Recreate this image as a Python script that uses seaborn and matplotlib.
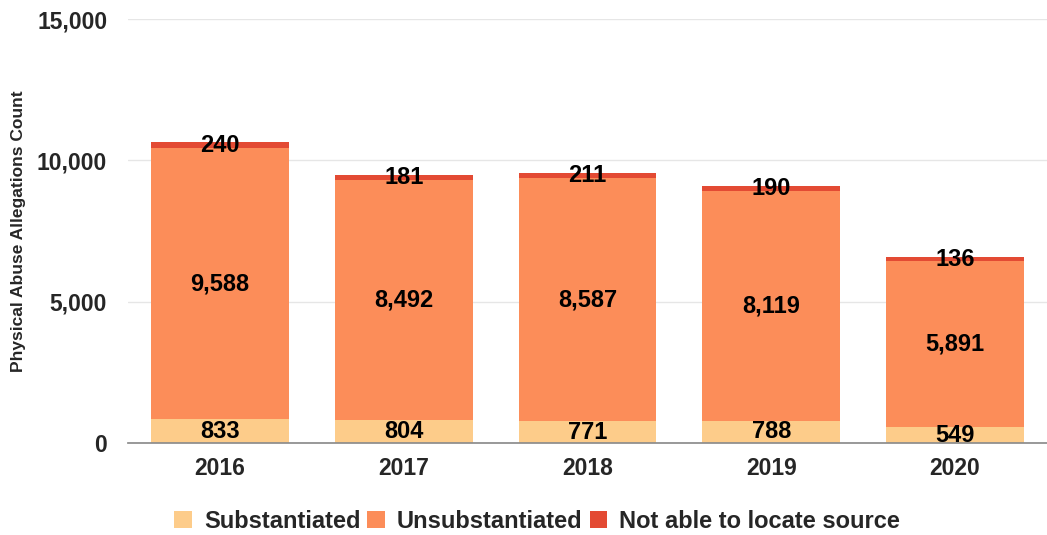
import numpy as np
import pandas as pd
import matplotlib
matplotlib.use("Agg")
import matplotlib.pyplot as plt
import seaborn as sns
from matplotlib.patches import Patch
from matplotlib.ticker import FuncFormatter

years = ["2016", "2017", "2018", "2019", "2020"]
substantiated = [833, 804, 771, 788, 549]
unsubstantiated = [9588, 8492, 8587, 8119, 5891]
not_located = [240, 181, 211, 190, 136]
series_names = ["Substantiated", "Unsubstantiated", "Not able to locate source"]
colors = ["#fdcc8a", "#fc8d59", "#e34a33"]

sns.set_theme(style="white")
plt.rcParams["font.family"] = ["Liberation Sans", "DejaVu Sans"]

df = pd.DataFrame({
    "year": years,
    "sub": substantiated,
    "unsub": unsubstantiated,
    "nl": not_located,
})
df["c1"] = df["sub"]
df["c2"] = df["sub"] + df["unsub"]
df["c3"] = df["c2"] + df["nl"]

fig = plt.figure(figsize=(10.47, 5.35), dpi=100)
ax = fig.add_axes([128 / 1047, 1 - 443 / 535, 1 - 128 / 1047, (443 - 19) / 535])

for col, c in zip(["c3", "c2", "c1"], colors[::-1]):
    sns.barplot(data=df, x="year", y=col, order=years, color=c, width=0.75,
                saturation=1, ax=ax, linewidth=0, zorder=3)

ax.set_ylim(0, 15000)
ax.set_xlim(-0.5, 4.5)
ax.set_yticks([0, 5000, 10000, 15000])
ax.yaxis.set_major_formatter(FuncFormatter(lambda v, p: f"{int(v):,}"))
ax.grid(axis="y", color="#e6e6e6", linewidth=1, zorder=0)
ax.grid(axis="x", visible=False)
for s in ["top", "right", "left"]:
    ax.spines[s].set_visible(False)
ax.spines["bottom"].set_color("#8c8c8c")
ax.spines["bottom"].set_zorder(4)
ax.tick_params(axis="y", length=7, color="#8c8c8c", width=1.2, labelsize=16.5, pad=8)
ax.tick_params(axis="x", which="major", length=0, labelsize=16.5, pad=10)
ax.set_xticks(np.arange(-0.5, 5, 1), minor=True)
ax.tick_params(axis="x", which="minor", length=7, color="#8c8c8c", width=1.2, direction="out")
for lab in ax.get_xticklabels() + ax.get_yticklabels():
    lab.set_fontweight("bold")
ax.set_xlabel("")
ax.set_ylabel("Physical Abuse Allegations Count", fontsize=12.5, fontweight="bold")
ax.yaxis.set_label_coords(-102 / 919, 0.5)
for lab in ax.get_yticklabels():
    lab.set_clip_on(False)

for i in range(len(years)):
    segs = [(0, substantiated[i]),
            (substantiated[i], unsubstantiated[i]),
            (substantiated[i] + unsubstantiated[i], not_located[i])]
    for base, val in segs:
        ax.text(i, base + val / 2, f"{val:,}", ha="center", va="center",
                fontsize=17, fontweight="bold", color="black", zorder=5)

handles = [Patch(facecolor=c, edgecolor="none") for c in colors]
fig.legend(handles, series_names, loc="center", bbox_to_anchor=(0.513, 0.026),
           ncol=3, frameon=False, handlelength=0.75, handleheight=0.75,
           handletextpad=0.5, columnspacing=0.3,
           prop={"size": 17, "weight": "bold"})

fig.savefig("out.png", dpi=100)
